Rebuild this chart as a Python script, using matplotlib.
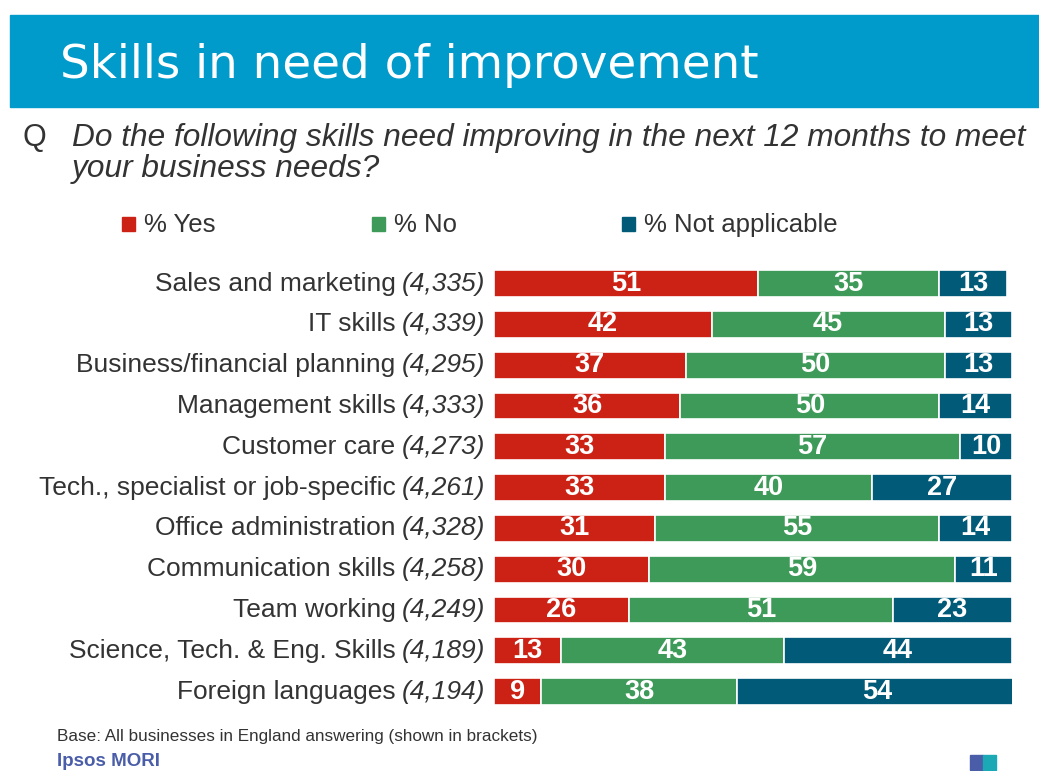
import numpy as np
import matplotlib.pyplot as plt
from matplotlib.patches import Rectangle

# data
skills = ["Sales and marketing", "IT skills", "Business/financial planning",
          "Management skills", "Customer care", "Tech., specialist or job-specific",
          "Office administration", "Communication skills", "Team working",
          "Science, Tech. & Eng. Skills", "Foreign languages"]
bases = ["(4,335)", "(4,339)", "(4,295)", "(4,333)", "(4,273)", "(4,261)",
         "(4,328)", "(4,258)", "(4,249)", "(4,189)", "(4,194)"]
yes = [51, 42, 37, 36, 33, 33, 31, 30, 26, 13, 9]
no = [35, 45, 50, 50, 57, 40, 55, 59, 51, 43, 38]
na = [13, 13, 13, 14, 10, 27, 14, 11, 23, 44, 54]
series_names = ["% Yes", "% No", "% Not applicable"]
colors = ["#CC2216", "#3D9A58", "#005A78"]

W, H = 1039, 771
fig = plt.figure(figsize=(W / 100, H / 100), dpi=100)
plt.rcParams['font.family'] = ['Liberation Sans', 'DejaVu Sans']

# header band
fig.patches.append(Rectangle((10 / W, 1 - 107 / H), 1 - 10 / W, 92 / H,
                             transform=fig.transFigure, color="#009BCB", zorder=0))
fig.text(60 / W, 1 - 65 / H, "Skills in need of improvement", color="white",
         fontsize=33.7, family="DejaVu Sans", va="center", ha="left")

# question
fig.text(22 / W, 1 - 138 / H, "Q", fontsize=22, color="#333333", va="center")
fig.text(72 / W, 1 - 138 / H, "Do the following skills need improving in the next 12 months to meet",
         fontsize=22.8, style="italic", color="#333333", va="center")
fig.text(72 / W, 1 - 169 / H, "your business needs?",
         fontsize=22.8, style="italic", color="#333333", va="center")

# legend
leg_x = [122, 372, 622]
for lx, name, c in zip(leg_x, series_names, colors):
    fig.patches.append(Rectangle((lx / W, 1 - 231 / H), 13 / W, 14 / H,
                                 transform=fig.transFigure, color=c))
    fig.text((lx + 22) / W, 1 - 225 / H, name, fontsize=18.5, color="#333333", va="center")

# bars
ax = fig.add_axes([494 / W, 1 - 712 / H, 518 / W, 448.8 / H])
y = np.arange(len(skills))
left = np.zeros(len(skills))
for vals, c in zip([yes, no, na], colors):
    vals = np.array(vals)
    ax.barh(y, vals, left=left, height=0.66, color=c, edgecolor="white", linewidth=1.2)
    for yi, l, v in zip(y, left, vals):
        ax.text(l + v / 2, yi, str(v), ha="center", va="center", color="white",
                fontsize=19.5, fontweight="bold",
                family=["Liberation Sans Narrow", "Liberation Sans"])
    left = left + vals
ax.set_xlim(0, 100)
ax.set_ylim(len(skills) - 0.5, -0.5)
ax.axis("off")

# category labels: normal text + italic base
fig.canvas.draw()
renderer = fig.canvas.get_renderer()
for yi, s, b in zip(y, skills, bases):
    yf = fig.transFigure.inverted().transform(ax.transData.transform((0, yi)))[1]
    t = fig.text(485 / W, yf, b, style="italic", fontsize=19, color="#333333",
                 ha="right", va="center")
    bb = t.get_window_extent(renderer)
    fig.text((bb.x0 - 6) / W, yf, s, fontsize=19, color="#333333",
             ha="right", va="center")

# footer
fig.text(57 / W, 1 - 737 / H, "Base: All businesses in England answering (shown in brackets)",
         fontsize=12.3, color="#333333", va="center")
fig.text(57 / W, 1 - 761 / H, "Ipsos MORI", fontsize=13.5, fontweight="bold",
         color="#4A5DA8", va="center")
fig.patches.append(Rectangle((970 / W, 1 - 770 / H), 13 / W, 15 / H,
                             transform=fig.transFigure, color="#4A5DA8"))
fig.patches.append(Rectangle((983 / W, 1 - 770 / H), 13 / W, 15 / H,
                             transform=fig.transFigure, color="#1BA9B5"))

fig.savefig("out.png", dpi=100)
